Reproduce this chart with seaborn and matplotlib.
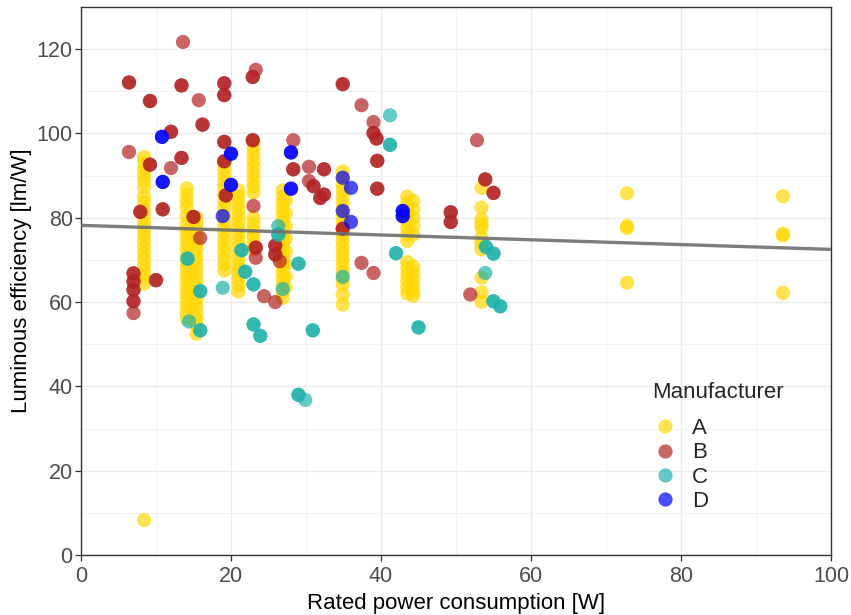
import matplotlib
matplotlib.use("Agg")
import matplotlib.pyplot as plt
import seaborn as sns
import pandas as pd

# ---------------- data ----------------
# Manufacturer A (yellow) columns: wattage -> efficiencies
a_x_08 = 8.4
a_y_08 = [94.4, 93.0, 91.6, 90.2, 88.8, 87.3, 85.0, 83.6, 82.0, 80.4, 78.9, 77.5, 76.0,
          74.6, 73.2, 71.6, 70.2, 68.7, 67.2, 65.8, 64.4, 8.3]
a_x_14 = 14.1
a_y_14 = [87.0, 85.5, 84.0, 82.5, 80.5, 78.5, 77.0, 75.5, 74.0, 72.5, 71.0, 69.5, 68.0,
          66.5, 65.0, 63.5, 62.0, 60.5, 59.0, 57.5, 56.0]
a_x_15 = 15.4
a_y_15 = [80.0, 78.5, 77.0, 75.5, 74.0, 72.5, 71.0, 69.5, 68.0, 66.5, 65.0, 63.5, 62.0,
          60.5, 59.0, 57.5, 56.0, 54.5, 52.5]
a_x_19 = 19.1
a_y_19 = [93.0, 91.5, 90.0, 88.5, 87.0, 85.5, 84.0, 82.5, 81.0, 79.5, 78.0, 76.5, 75.0,
          73.5, 72.0, 70.5, 69.0, 67.5]
a_x_21 = 21.0
a_y_21 = [86.5, 85.0, 83.5, 82.0, 80.5, 79.0, 77.5, 76.0, 74.5, 73.0, 71.5, 70.0, 68.5,
          67.0, 65.5, 64.0, 62.5]
a_x_23 = 23.0
a_y_23 = [98.0, 96.5, 95.0, 93.5, 92.0, 90.5, 89.0, 87.5, 86.0, 80.0, 78.5, 77.0, 75.5,
          74.0, 72.5]
a_x_27 = 26.9
a_y_27 = [86.5, 85.0, 83.5, 82.0, 80.5, 79.0, 77.5, 76.0, 74.5, 73.0, 71.5, 70.0, 68.5,
          67.0, 65.5, 64.0, 62.5, 61.0]
a_x_27b = 27.3
a_y_27b = [84.0, 81.0, 78.0, 75.0, 72.0, 69.0, 66.0, 63.5]
a_x_35 = 34.9
a_y_35 = [91.0, 89.5, 88.0, 86.5, 85.0, 83.5, 82.0, 80.5, 79.0, 77.5, 76.0, 74.5, 73.0,
          71.5, 70.0, 68.5, 67.0, 65.5, 64.2, 61.8, 59.4]
a_x_43 = 43.5
a_y_43 = [85.0, 83.5, 82.0, 80.5, 79.0, 77.5, 76.0, 74.5, 69.5, 68.0, 66.5, 65.0, 63.5, 62.0]
a_x_44 = 44.3
a_y_44 = [84.0, 82.0, 80.0, 78.0, 76.0, 68.5, 67.0, 65.5, 64.0, 62.5, 61.5]
a_x_53 = 53.4
a_y_53 = [87.1, 82.4, 79.6, 78.5, 77.7, 75.3, 74.0, 72.5, 65.8, 62.3, 60.1]
a_x_73 = 72.8
a_y_73 = [85.8, 78.0, 77.6, 64.6]
a_x_94 = 93.6
a_y_94 = [85.1, 76.2, 75.8, 62.2]

# Manufacturer B (red)
b_x = [6.4, 6.4, 13.4, 13.4, 19.1, 19.1, 19.1, 19.1, 22.9, 22.9, 9.2, 9.2, 16.2, 16.2,
       12.0, 12.0, 19.1, 19.1, 22.9, 22.9, 13.4, 13.4, 9.2, 9.2, 19.1, 19.1, 7.9, 7.9,
       10.9, 10.9, 15.0, 15.0, 15.9, 7.0, 7.0, 7.0, 7.0, 7.0, 7.0, 7.0, 7.0, 10.0, 10.0,
       19.3, 19.3, 23.3, 23.3, 34.9, 34.9, 39.0, 39.0, 39.4, 39.4, 39.5, 39.5, 39.5, 39.5,
       53.9, 53.9, 55.0, 55.0, 49.3, 49.3, 49.3, 49.3, 28.3, 28.3, 32.4, 32.4, 31.0, 31.0,
       32.4, 32.4, 31.9, 31.9, 25.9, 25.9, 25.9, 25.9, 34.9, 34.9,
       13.6, 23.3, 15.7, 6.4, 12.0, 7.0, 23.0, 23.3, 24.4, 28.3, 30.4, 30.4, 26.5, 25.9,
       37.4, 39.0, 37.4, 39.0, 52.8, 51.9]
b_y = [112.1, 112.1, 111.4, 111.4, 111.9, 111.9, 109.1, 109.1, 113.4, 113.4, 107.7, 107.7,
       102.1, 102.1, 100.4, 100.4, 98.0, 98.0, 98.4, 98.4, 94.2, 94.2, 92.6, 92.6, 93.4, 93.4,
       81.4, 81.4, 82.0, 82.0, 80.2, 80.2, 75.2, 66.8, 66.8, 64.9, 64.9, 62.9, 62.9, 60.2,
       60.2, 65.2, 65.2, 85.3, 85.3, 72.9, 72.9, 111.7, 111.7, 100.1, 100.1, 98.8, 98.8,
       93.5, 93.5, 86.9, 86.9, 89.1, 89.1, 85.9, 85.9, 81.3, 81.3, 79.0, 79.0, 91.5, 91.5,
       91.5, 91.5, 87.5, 87.5, 85.5, 85.5, 84.7, 84.7, 73.4, 73.4, 71.3, 71.3, 77.4, 77.4,
       121.7, 115.1, 107.9, 95.6, 91.8, 57.4, 82.8, 70.5, 61.4, 98.4, 92.1, 88.7, 69.7, 60.0,
       106.7, 102.7, 69.3, 66.9, 98.4, 61.8]

# Manufacturer C (teal)
c_x = [14.2, 14.2, 15.9, 15.9, 15.9, 15.9, 21.4, 21.4, 21.9, 21.9, 23.0, 23.0, 23.0, 23.0,
       23.9, 23.9, 26.3, 26.3, 29.0, 29.0, 30.9, 30.9, 29.0, 29.0, 41.2, 41.2, 42.0, 42.0,
       45.0, 45.0, 54.0, 54.0, 55.0, 55.0, 55.0, 55.0, 55.9, 55.9,
       14.4, 18.9, 26.3, 26.9, 29.9, 41.2, 53.9, 34.9]
c_y = [70.3, 70.3, 62.6, 62.6, 53.3, 53.3, 72.3, 72.3, 67.2, 67.2, 64.2, 64.2, 54.7, 54.7,
       52.0, 52.0, 76.0, 76.0, 69.1, 69.1, 53.3, 53.3, 38.0, 38.0, 97.3, 97.3, 71.6, 71.6,
       54.0, 54.0, 73.1, 73.1, 71.5, 71.5, 60.2, 60.2, 59.0, 59.0,
       55.4, 63.4, 78.0, 63.1, 36.8, 104.3, 66.9, 66.0]

# Manufacturer D (blue)
d_x = [10.8, 10.8, 10.9, 10.9, 20.0, 20.0, 20.0, 20.0, 28.0, 28.0, 28.0, 28.0, 42.9, 42.9,
       42.9, 42.9, 18.9, 34.9, 36.0, 34.9, 36.0]
d_y = [99.2, 99.2, 88.5, 88.5, 95.2, 95.2, 87.8, 87.8, 95.5, 95.5, 86.9, 86.9, 81.6, 81.6,
       80.4, 80.4, 80.4, 89.5, 87.1, 81.6, 79.0]

# Linear trend
trend_x = [0, 100]
trend_y = [78.2, 72.5]

manufacturers = ["A", "B", "C", "D"]
palette = {"A": "#FFD700", "B": "#B22222", "C": "#20B2AA", "D": "#0000FF"}

# ---------------- build table ----------------
a_cols = [(a_x_08, a_y_08), (a_x_14, a_y_14), (a_x_15, a_y_15), (a_x_19, a_y_19),
          (a_x_21, a_y_21), (a_x_23, a_y_23), (a_x_27, a_y_27), (a_x_27b, a_y_27b),
          (a_x_35, a_y_35), (a_x_43, a_y_43), (a_x_44, a_y_44), (a_x_53, a_y_53),
          (a_x_73, a_y_73), (a_x_94, a_y_94)]
rows = []
for xv, ys in a_cols:
    for yv in ys:
        rows.append(("A", xv, yv))
for m, xs, ys in (("B", b_x, b_y), ("C", c_x, c_y), ("D", d_x, d_y)):
    for xv, yv in zip(xs, ys):
        rows.append((m, xv, yv))
df = pd.DataFrame(rows, columns=["Manufacturer", "power", "eff"])
trend = pd.DataFrame({"power": trend_x, "eff": trend_y})

# ---------------- plot ----------------
sns.set_theme(style="white")
plt.rcParams["font.family"] = ["Liberation Sans", "DejaVu Sans"]

fig = plt.figure(figsize=(8.51, 6.15), dpi=100)
ax = fig.add_axes([81 / 851, 1 - 555 / 615, 750 / 851, 548 / 615])

sns.scatterplot(data=df, x="power", y="eff", hue="Manufacturer", hue_order=manufacturers,
                palette=palette, s=105, alpha=0.7, linewidth=0, ax=ax, zorder=3)
sns.lineplot(data=trend, x="power", y="eff", color="#6E6E6E", lw=2.4, alpha=0.9,
             ax=ax, zorder=4, legend=False)

ax.set_xlim(0, 100)
ax.set_ylim(0, 130)
ax.set_xticks([0, 20, 40, 60, 80, 100])
ax.set_yticks([0, 20, 40, 60, 80, 100, 120])
ax.set_xticks([10, 30, 50, 70, 90], minor=True)
ax.set_yticks([10, 30, 50, 70, 90, 110, 130], minor=True)
ax.grid(True, which="major", color="#EBEBEB", lw=1.0, zorder=0)
ax.grid(True, which="minor", color="#F2F2F2", lw=0.7, zorder=0)
ax.set_axisbelow(True)
for sp in ax.spines.values():
    sp.set_color("#333333")
    sp.set_linewidth(1.0)
ax.tick_params(axis="both", which="major", length=4, width=0.9, color="#333333",
               labelsize=15.5, labelcolor="#4D4D4D", pad=2, bottom=True, left=True)
ax.tick_params(axis="x", which="major", pad=4)
ax.tick_params(axis="both", which="minor", length=0)

ax.set_xlabel("Rated power consumption [W]", fontsize=16, color="black", labelpad=4)
ax.set_ylabel("Luminous efficiency [lm/W]", fontsize=16, color="black", labelpad=3)

leg = ax.legend(title="Manufacturer", loc="upper left", bbox_to_anchor=(0.761, 0.316),
                frameon=False, fontsize=16, title_fontsize=16, handletextpad=0.6,
                handlelength=1.2, borderpad=0, borderaxespad=0,
                labelspacing=0.15, markerscale=1.0, alignment="left")
leg._legend_box.sep = 11
for h in leg.legend_handles:
    h.set_alpha(0.7)

fig.savefig("out.png", dpi=100)
